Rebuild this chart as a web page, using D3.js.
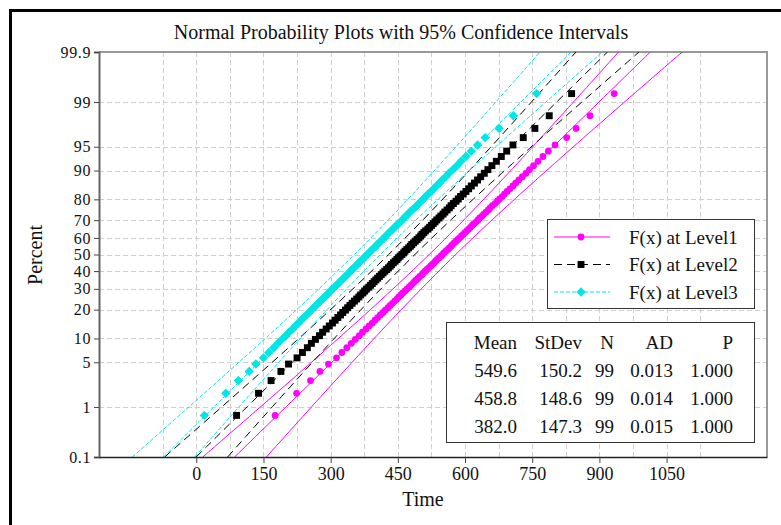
<!DOCTYPE html>
<html>
<head>
<meta charset="utf-8">
<script src="https://cdn.jsdelivr.net/npm/d3@7"></script>
<style>
  body { margin: 0; background: #fff; }
  svg { display: block; }
  text { font-family: "Liberation Serif", "Times New Roman", serif; fill: #111; }
</style>
</head>
<body>
<svg id="chart"></svg>
<script>
const WIDTH = 781;
const HEIGHT = 525;

const SERIES_NAMES = ['F(x) at Level1', 'F(x) at Level2', 'F(x) at Level3'];
const MEANS = [549.6, 458.8, 382.0];
const STDEVS = [150.2, 148.6, 147.3];
const COUNTS = [99, 99, 99];
const AD_VALUES = ['0.013', '0.014', '0.015'];
const P_VALUES = ['1.000', '1.000', '1.000'];

// sorted Time values, one per point
const LEVEL1_TIME = [176, 224, 255, 276, 295, 313, 325, 336, 346, 355, 364, 371, 379, 386, 393, 399, 405, 411, 417, 422,
  428, 433, 438, 443, 448, 452, 457, 461, 466, 470, 475, 479, 483, 487, 491, 495, 499, 504, 507, 511,
  515, 519, 523, 527, 531, 534, 538, 542, 546, 550, 553, 557, 561, 565, 569, 572, 576, 580, 584, 588,
  592, 596, 600, 604, 608, 612, 616, 620, 625, 629, 633, 638, 642, 647, 652, 656, 661, 667, 672, 677,
  683, 688, 694, 700, 707, 713, 720, 728, 736, 744, 753, 763, 774, 786, 801, 827, 848, 879, 933];
const LEVEL2_TIME = [90, 139, 167, 189, 206, 225, 237, 248, 257, 266, 275, 282, 290, 297, 304, 310, 316, 322, 327, 333,
  338, 343, 348, 353, 358, 363, 367, 372, 376, 380, 385, 389, 393, 397, 401, 405, 409, 413, 417, 421,
  425, 429, 433, 436, 440, 444, 448, 451, 455, 459, 463, 466, 470, 474, 478, 481, 485, 489, 493, 497,
  501, 504, 508, 512, 517, 521, 525, 529, 533, 537, 542, 546, 551, 555, 560, 565, 569, 574, 580, 585,
  590, 596, 602, 608, 614, 621, 628, 635, 643, 651, 660, 670, 681, 693, 707, 730, 756, 788, 838];
const LEVEL3_TIME = [18, 66, 94, 118, 133, 150, 162, 173, 182, 191, 200, 207, 215, 221, 228, 234, 240, 246, 252, 257,
  262, 267, 272, 277, 282, 287, 291, 296, 300, 304, 308, 313, 317, 321, 325, 329, 333, 337, 341, 344,
  348, 352, 356, 360, 363, 367, 371, 375, 378, 382, 386, 389, 393, 397, 401, 404, 408, 412, 416, 420,
  423, 427, 431, 435, 439, 443, 447, 451, 456, 460, 464, 468, 473, 477, 482, 487, 492, 497, 502, 507,
  512, 518, 524, 530, 536, 543, 549, 557, 564, 573, 582, 591, 602, 614, 628, 645, 676, 708, 760];

const PCT_TICKS = [0.1, 1, 5, 10, 20, 30, 40, 50, 60, 70, 80, 90, 95, 99, 99.9];
const TIME_TICKS = [0, 150, 300, 450, 600, 750, 900, 1050];
const TIME_GRID = [-75, 0, 75, 150, 225, 300, 375, 450, 525, 600, 675, 750, 825, 900, 975, 1050, 1125];

const COLORS = ['#ff00ff', '#000000', '#00e5e5'];
const DASHES = [null, '8,5', '4,2'];

// inverse of the standard normal cdf (Acklam)
function probit(p) {
  const a = [-39.69683028665376, 220.9460984245205, -275.9285104469687, 138.3577518672690, -30.66479806614716, 2.506628277459239];
  const b = [-54.47609879822406, 161.5858368580409, -155.6989798598866, 66.80131188771972, -13.28068155288572];
  const c = [-0.007784894002430293, -0.3223964580411365, -2.400758277161838, -2.549732539343734, 4.374664141464968, 2.938163982698783];
  const d = [0.007784695709041462, 0.3224671290700398, 2.445134137142996, 3.754408661907416];
  const lo = 0.02425;
  let q, r;
  if (p < lo || p > 1 - lo) {
    q = Math.sqrt(-2 * Math.log(p < lo ? p : 1 - p));
    const v = (((((c[0] * q + c[1]) * q + c[2]) * q + c[3]) * q + c[4]) * q + c[5]) /
              ((((d[0] * q + d[1]) * q + d[2]) * q + d[3]) * q + 1);
    return p < lo ? v : -v;
  }
  q = p - 0.5; r = q * q;
  return (((((a[0] * r + a[1]) * r + a[2]) * r + a[3]) * r + a[4]) * r + a[5]) * q /
         (((((b[0] * r + b[1]) * r + b[2]) * r + b[3]) * r + b[4]) * r + 1);
}

const PLOT = { left: 99, right: 767, top: 52, bottom: 457 };
const Z_MIN = probit(0.001), Z_MAX = probit(0.999);

const x = d3.scaleLinear().domain([-217.2, 1274.2]).range([PLOT.left, PLOT.right]);
const y = d3.scaleLinear().domain([Z_MIN, Z_MAX]).range([PLOT.bottom, PLOT.top]);

const svg = d3.select('#chart').attr('width', WIDTH).attr('height', HEIGHT);

svg.append('defs').append('clipPath').attr('id', 'plotclip')
  .append('rect')
  .attr('x', PLOT.left).attr('y', PLOT.top)
  .attr('width', PLOT.right - PLOT.left).attr('height', PLOT.bottom - PLOT.top);

// outer frame
svg.append('path')
  .attr('d', `M10.5,${HEIGHT + 5}V10.5H${WIDTH + 5}`)
  .attr('fill', 'none').attr('stroke', '#000').attr('stroke-width', 3);

// title
svg.append('text').attr('x', 401).attr('y', 39).attr('text-anchor', 'middle')
  .attr('font-size', 20).text('Normal Probability Plots with 95% Confidence Intervals');

// grid
const grid = svg.append('g').attr('stroke', '#cfcfcf').attr('stroke-dasharray', '5,3').attr('stroke-width', 1);
grid.selectAll('.hg').data(PCT_TICKS.slice(1, -1)).enter().append('line')
  .attr('x1', PLOT.left).attr('x2', PLOT.right)
  .attr('y1', d => Math.round(y(probit(d / 100))) + 0.5)
  .attr('y2', d => Math.round(y(probit(d / 100))) + 0.5);
grid.selectAll('.vg').data(TIME_GRID).enter().append('line')
  .attr('y1', PLOT.top).attr('y2', PLOT.bottom)
  .attr('x1', d => Math.round(x(d)) + 0.5)
  .attr('x2', d => Math.round(x(d)) + 0.5);

// plot frame top / right
svg.append('path')
  .attr('d', `M${PLOT.left},${PLOT.top}H${PLOT.right}V${PLOT.bottom}`)
  .attr('fill', 'none').attr('stroke', '#999').attr('stroke-width', 2);

// fitted lines + 95% confidence bands
const lineGen = d3.line().x(d => x(d[0])).y(d => y(d[1]));
const zSteps = d3.range(0, 81).map(k => Z_MIN + (Z_MAX - Z_MIN) * k / 80);
const lines = svg.append('g').attr('clip-path', 'url(#plotclip)');
MEANS.forEach((m, s) => {
  const sd = STDEVS[s], n = COUNTS[s];
  const half = z => 1.96 * sd * Math.sqrt((1 + z * z / 2) / n);
  const curves = [
    zSteps.map(z => [m + sd * z, z]),
    zSteps.map(z => [m + sd * z - half(z), z]),
    zSteps.map(z => [m + sd * z + half(z), z])
  ];
  lines.selectAll(null).data(curves).enter().append('path')
    .attr('d', lineGen)
    .attr('fill', 'none')
    .attr('stroke', COLORS[s])
    .attr('stroke-width', 1)
    .attr('stroke-dasharray', DASHES[s]);
});

// points
const SERIES_TIME = [LEVEL1_TIME, LEVEL2_TIME, LEVEL3_TIME];
const SYMBOLS = [d3.symbolCircle, d3.symbolSquare, d3.symbolSquare];
const SYMBOL_SIZE = [36, 48, 44];
const SYMBOL_ROT = [0, 0, 45];
const pts = svg.append('g');
SERIES_TIME.forEach((vals, s) => {
  const n = vals.length;
  pts.selectAll(null).data(vals).enter().append('path')
    .attr('d', d3.symbol().type(SYMBOLS[s]).size(SYMBOL_SIZE[s]))
    .attr('transform', (d, i) =>
      `translate(${x(d)},${y(probit((i + 1 - 0.3) / (n + 0.4)))}) rotate(${SYMBOL_ROT[s]})`)
    .attr('fill', COLORS[s]);
});

// axes
const yAxis = d3.axisLeft(y)
  .tickValues(PCT_TICKS.map(p => probit(p / 100)))
  .tickFormat((d, i) => PCT_TICKS[i])
  .tickSize(5).tickPadding(3);
const gy = svg.append('g').attr('transform', `translate(${PLOT.left},0)`).call(yAxis);
gy.select('.domain').attr('stroke', '#666').attr('stroke-width', 2);
gy.selectAll('.tick line').attr('stroke', '#444');
gy.selectAll('.tick text').attr('font-size', 16).attr('font-family', '"Liberation Serif", serif')
  .attr('fill', '#111').attr('letter-spacing', 0.6);

const xAxis = d3.axisBottom(x).tickValues(TIME_TICKS).tickFormat(d3.format('d'))
  .tickSize(6).tickPadding(4).tickSizeOuter(0);
const gx = svg.append('g').attr('transform', `translate(0,${PLOT.bottom})`).call(xAxis);
gx.select('.domain').attr('stroke', '#222').attr('stroke-width', 1.5);
gx.selectAll('.tick line').attr('stroke', '#444');
gx.selectAll('.tick text').attr('font-size', 18).attr('font-family', '"Liberation Serif", serif').attr('fill', '#111');

svg.append('text').attr('x', 423).attr('y', 506).attr('text-anchor', 'middle')
  .attr('font-size', 20).text('Time');
svg.append('text').attr('transform', 'translate(42,255) rotate(-90)').attr('text-anchor', 'middle')
  .attr('font-size', 20).text('Percent');

// legend
const legend = svg.append('g');
legend.append('rect').attr('x', 547.5).attr('y', 219.5).attr('width', 207).attr('height', 89)
  .attr('fill', '#fff').attr('stroke', '#333');
SERIES_NAMES.forEach((name, s) => {
  const ly = 237 + s * 27.5;
  legend.append('line').attr('x1', 554).attr('x2', 610).attr('y1', ly).attr('y2', ly)
    .attr('stroke', COLORS[s]).attr('stroke-dasharray', DASHES[s]);
  legend.append('path').attr('d', d3.symbol().type(SYMBOLS[s]).size(SYMBOL_SIZE[s])())
    .attr('transform', `translate(581,${ly}) rotate(${SYMBOL_ROT[s]})`).attr('fill', COLORS[s]);
  legend.append('text').attr('x', 629).attr('y', ly).attr('dy', '0.35em')
    .attr('font-size', 19).text(name);
});

// statistics table
const stats = svg.append('g');
stats.append('rect').attr('x', 446.5).attr('y', 322.5).attr('width', 308).attr('height', 120)
  .attr('fill', '#fff').attr('stroke', '#333');
const COL_RIGHT = [517, 582, 614, 673, 733];
const HEADERS = ['Mean', 'StDev', 'N', 'AD', 'P'];
HEADERS.forEach((h, c) => {
  stats.append('text').attr('x', COL_RIGHT[c]).attr('y', 342).attr('dy', '0.35em')
    .attr('text-anchor', 'end').attr('font-size', 19).text(h);
});
MEANS.forEach((m, s) => {
  const row = [m.toFixed(1), STDEVS[s].toFixed(1), COUNTS[s], AD_VALUES[s], P_VALUES[s]];
  row.forEach((v, c) => {
    stats.append('text').attr('x', COL_RIGHT[c]).attr('y', 370 + s * 28).attr('dy', '0.35em')
      .attr('text-anchor', 'end').attr('font-size', 19).text(v);
  });
});
</script>
</body>
</html>
